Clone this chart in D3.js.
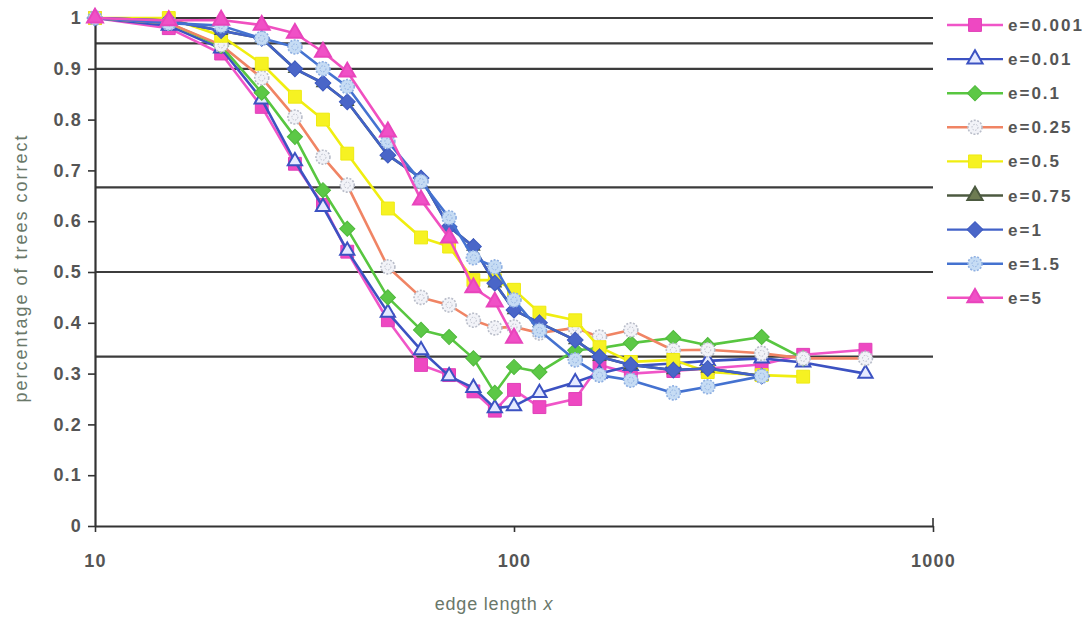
<!DOCTYPE html>
<html>
<head>
<meta charset="utf-8">
<script src="https://cdn.jsdelivr.net/npm/d3@7"></script>
<style>
  body { margin: 0; background: #fff; }
  svg { display: block; font-family: "Liberation Sans", Arial, sans-serif; }
  .tick text { font-weight: bold; fill: #555; font-size: 18px; letter-spacing: 1.2px; }
  .legend-text { font-weight: bold; fill: #555; font-size: 17px; letter-spacing: 2px; }
  .axis-title { fill: #6a786a; font-size: 18px; letter-spacing: 2px; }
  .axis-title.x-title { letter-spacing: 0.8px; }
</style>
</head>
<body>
<div id="chart"></div>
<script>
/* x values (edge length) */
const edgeLengths = [10, 15, 20, 25, 30, 35, 40, 50, 60, 70, 80, 90, 100, 115, 140, 160, 190, 240, 290, 390, 490, 690];

/* one array per series, null = no point */
const e0001 = [1, 0.98, 0.93, 0.825, 0.713, 0.632, 0.54, 0.405, 0.317, 0.297, 0.265, 0.227, 0.268, 0.234, 0.25, 0.317, 0.3, 0.305, 0.31, 0.318, 0.337, 0.347];
const e001 = [1, 0.985, 0.94, 0.84, 0.718, 0.628, 0.542, 0.42, 0.346, 0.295, 0.272, 0.232, 0.236, 0.262, 0.283, 0.3, 0.315, 0.32, 0.325, 0.33, 0.322, 0.3];
const e01 = [1, 0.99, 0.945, 0.853, 0.766, 0.661, 0.585, 0.45, 0.386, 0.372, 0.33, 0.262, 0.313, 0.303, 0.346, 0.35, 0.36, 0.37, 0.356, 0.372, 0.33, null];
const e025 = [1, 0.99, 0.947, 0.882, 0.805, 0.726, 0.671, 0.51, 0.45, 0.435, 0.405, 0.39, 0.392, 0.38, 0.39, 0.372, 0.386, 0.346, 0.347, 0.34, 0.33, 0.33];
const e05 = [1, 1, 0.965, 0.91, 0.845, 0.8, 0.733, 0.625, 0.568, 0.55, 0.484, 0.484, 0.465, 0.42, 0.405, 0.352, 0.323, 0.327, 0.303, 0.297, 0.294, null];
const e075 = [1, 0.995, 0.975, 0.96, 0.9, 0.872, 0.835, 0.73, 0.685, 0.589, 0.55, 0.478, 0.425, 0.4, 0.366, 0.333, 0.317, 0.307, 0.31, 0.295, null, null];
const e1 = [1, 0.995, 0.975, 0.96, 0.9, 0.872, 0.835, 0.73, 0.685, 0.589, 0.55, 0.478, 0.425, 0.4, 0.366, 0.333, 0.317, 0.307, 0.31, 0.295, null, null];
const e15 = [1, 0.99, 0.985, 0.96, 0.943, 0.9, 0.865, 0.757, 0.678, 0.607, 0.528, 0.51, 0.445, 0.385, 0.327, 0.297, 0.287, 0.262, 0.274, 0.295, null, null];
const e5 = [1, 0.995, 0.996, 0.986, 0.97, 0.933, 0.894, 0.776, 0.642, 0.567, 0.469, 0.441, 0.37, null, null, null, null, null, null, null, null, null];

const seriesNames = ['e=0.001', 'e=0.01', 'e=0.1', 'e=0.25', 'e=0.5', 'e=0.75', 'e=1', 'e=1.5', 'e=5'];
const seriesValues = [e0001, e001, e01, e025, e05, e075, e1, e15, e5];

/* tick labels and reference lines */
const yTicks = [0, 0.1, 0.2, 0.3, 0.4, 0.5, 0.6, 0.7, 0.8, 0.9, 1];
const yTickLabels = ['0', '0.1', '0.2', '0.3', '0.4', '0.5', '0.6', '0.7', '0.8', '0.9', '1'];
const xTicks = [10, 100, 1000];
const xTickLabels = ['10', '100', '1000'];
const gridValues = [1, 0.95, 0.9, 2 / 3, 0.5, 1 / 3];

/* look of each series */
const styles = [
  { line: '#f055c8', fill: '#ee48c2', stroke: '#e040b8', shape: 'square', size: 165 },
  { line: '#3c52c2', fill: '#e6eaff', stroke: '#3c52c2', shape: 'triangle', size: 88 },
  { line: '#58c640', fill: '#5cc846', stroke: '#4fb83c', shape: 'diamond', size: 115 },
  { line: '#f08464', fill: '#f2f3f8', stroke: '#b9bdc9', shape: 'circle', size: 7 },
  { line: '#f0ee10', fill: '#f6f222', stroke: '#eeea10', shape: 'square', size: 165 },
  { line: '#4c5a40', fill: '#6e7c52', stroke: '#4c5a40', shape: 'triangle', size: 55 },
  { line: '#4262c8', fill: '#4a66c8', stroke: '#3e5ac0', shape: 'diamond', size: 125 },
  { line: '#4472d0', fill: '#c6dcf4', stroke: '#8fb0e2', shape: 'circle', size: 7 },
  { line: '#f050c0', fill: '#f050c6', stroke: '#e844bc', shape: 'triangle', size: 110 }
];

const w = 1088;
const h = 618;

const x = d3.scaleLog().domain([10, 1000]).range([95, 933]);
const y = d3.scaleLinear().domain([0, 1]).range([526, 18]);

const svg = d3.select('#chart')
  .append('svg')
  .attr('width', w)
  .attr('height', h);

/* marker drawing */
const drawMarker = (sel, st, size) => {
  const s = size || st.size;
  if (st.shape === 'circle') {
    sel.append('circle')
      .attr('r', s)
      .attr('fill', st.fill)
      .attr('stroke', st.stroke)
      .attr('stroke-width', 1.6)
      .attr('stroke-dasharray', '2,1.5');
    sel.append('circle')
      .attr('r', 3)
      .attr('fill', 'none')
      .attr('stroke', st.stroke)
      .attr('stroke-width', 1)
      .attr('stroke-dasharray', '1.5,1.5');
  } else if (st.shape === 'square') {
    sel.append('path')
      .attr('d', d3.symbol(d3.symbolSquare, s)())
      .attr('fill', st.fill)
      .attr('stroke', st.stroke)
      .attr('stroke-width', 1);
  } else if (st.shape === 'diamond') {
    sel.append('path')
      .attr('d', d3.symbol(d3.symbolSquare, s)())
      .attr('transform', 'rotate(45)')
      .attr('fill', st.fill)
      .attr('stroke', st.stroke)
      .attr('stroke-width', 1);
  } else {
    sel.append('path')
      .attr('d', d3.symbol(d3.symbolTriangle, s)())
      .attr('fill', st.fill)
      .attr('stroke', st.stroke)
      .attr('stroke-width', 2);
  }
};

/* horizontal reference lines */
svg.append('g')
  .selectAll('line')
  .data(gridValues)
  .join('line')
  .attr('x1', x(10))
  .attr('x2', x(1000))
  .attr('y1', d => y(d))
  .attr('y2', d => y(d))
  .attr('stroke', '#3c3c3c')
  .attr('stroke-width', 2.2);

/* axes */
const yAxis = d3.axisLeft(y)
  .tickValues(yTicks)
  .tickFormat((d, i) => yTickLabels[i])
  .tickSize(7)
  .tickPadding(6)
  .tickSizeOuter(0);

const xAxis = d3.axisBottom(x)
  .tickValues(xTicks)
  .tickFormat((d, i) => xTickLabels[i])
  .tickSize(6)
  .tickPadding(22)
  .tickSizeOuter(0);

const gy = svg.append('g')
  .attr('transform', `translate(${x(10)},0)`)
  .call(yAxis);

const gx = svg.append('g')
  .attr('transform', `translate(0,${y(0)})`)
  .call(xAxis);

[gx, gy].forEach(g => {
  g.select('.domain').attr('stroke', '#333').attr('stroke-width', 2.2);
  g.selectAll('.tick line').attr('stroke', '#333').attr('stroke-width', 1.6);
  g.selectAll('.tick text').attr('font-family', null).attr('font-size', null);
});

/* small upward tick at the right end of the x axis */
svg.append('line')
  .attr('x1', x(1000)).attr('x2', x(1000))
  .attr('y1', y(0) - 8).attr('y2', y(0))
  .attr('stroke', '#333')
  .attr('stroke-width', 1.6);

/* axis titles */
svg.append('text')
  .attr('class', 'axis-title')
  .attr('transform', 'translate(27,268) rotate(-90)')
  .attr('text-anchor', 'middle')
  .text('percentage of trees correct');

const xt = svg.append('text')
  .attr('class', 'axis-title x-title')
  .attr('x', 494)
  .attr('y', 610)
  .attr('text-anchor', 'middle');
xt.append('tspan').text('edge length ');
xt.append('tspan').attr('font-style', 'italic').text('x');

/* series lines + markers */
const line = d3.line()
  .defined(d => d[1] !== null)
  .x(d => x(d[0]))
  .y(d => y(d[1]));

seriesValues.forEach((vals, k) => {
  const st = styles[k];
  const pts = edgeLengths.map((e, i) => [e, vals[i]]);
  const g = svg.append('g').attr('class', 'series');
  g.append('path')
    .datum(pts)
    .attr('d', line)
    .attr('fill', 'none')
    .attr('stroke', st.line)
    .attr('stroke-width', 2.6)
    .attr('stroke-linejoin', 'round');
  g.selectAll('.pt')
    .data(pts.filter(p => p[1] !== null))
    .join('g')
    .attr('class', 'pt')
    .attr('transform', p => `translate(${x(p[0])},${y(p[1])})`)
    .each(function () { drawMarker(d3.select(this), st); });
});

/* legend */
const legend = svg.append('g').attr('id', 'legend');
seriesNames.forEach((name, k) => {
  const st = styles[k];
  const ly = 25 + k * 34.1;
  const item = legend.append('g').attr('transform', `translate(0,${ly})`);
  item.append('line')
    .attr('x1', 947).attr('x2', 1003)
    .attr('stroke', st.line)
    .attr('stroke-width', 2.4);
  const m = item.append('g').attr('transform', 'translate(975,0)');
  drawMarker(m, st, st.shape === 'triangle' ? 100 : null);
  item.append('text')
    .attr('class', 'legend-text')
    .attr('x', 1008)
    .attr('y', 6)
    .text(name);
});
</script>
</body>
</html>
